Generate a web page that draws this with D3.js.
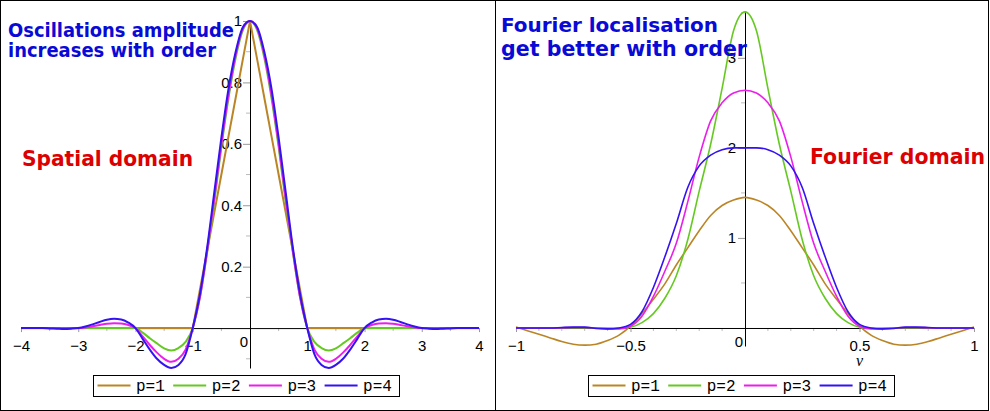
<!DOCTYPE html>
<html><head><meta charset="utf-8">
<script src="https://cdn.jsdelivr.net/npm/d3@7"></script>
<style>body{margin:0;background:#fff} svg{display:block}</style>
</head><body>
<svg id="c" width="990" height="411"></svg>
<script>
// ---------- data ----------
const seriesLabels = ["p=1", "p=2", "p=3", "p=4"];
const seriesColors = ["#bb8526", "#66c922", "#ea1fea", "#3412f2"];

// spatial domain samples
const xSpatial = [-4,-3.875,-3.75,-3.625,-3.5,-3.375,-3.25,-3.125,
  -3,-2.875,-2.75,-2.625,-2.5,-2.375,-2.25,-2.125,
  -2,-1.875,-1.75,-1.625,-1.5,-1.375,-1.25,-1.125,
  -1,-0.875,-0.75,-0.625,-0.5,-0.375,-0.25,-0.125,
  0,0.125,0.25,0.375,0.5,0.625,0.75,0.875,
  1,1.125,1.25,1.375,1.5,1.625,1.75,1.875,
  2,2.125,2.25,2.375,2.5,2.625,2.75,2.875,
  3,3.125,3.25,3.375,3.5,3.625,3.75,3.875,
  4];
const spatialP1 = [0,0,0,0,0,0,0,0,
  0,0,0,0,0,0,0,0,
  0,0,0,0,0,0,0,0,
  0,0.125,0.25,0.375,0.5,0.625,0.75,0.875,
  1,0.875,0.75,0.625,0.5,0.375,0.25,0.125,
  0,0,0,0,0,0,0,0,
  0,0,0,0,0,0,0,0,
  0,0,0,0,0,0,0,0,
  0];
const spatialP2 = [0,0,0,0,0,0,0,0,
  0,0,0,0,0,0,0,0,
  0,-0.015,-0.033,-0.05,-0.066,-0.073,-0.065,-0.045,
  0,0.10,0.245,0.41,0.59,0.75,0.88,0.97,
  1,0.97,0.88,0.75,0.59,0.41,0.245,0.10,
  0,-0.045,-0.065,-0.073,-0.066,-0.05,-0.033,-0.015,
  0,0,0,0,0,0,0,0,
  0,0,0,0,0,0,0,0,
  0];
const spatialP3 = [0,0,0,0,0,0,0,0,
  0,0.002,0.006,0.010,0.014,0.016,0.015,0.010,
  0,-0.027,-0.055,-0.08,-0.10,-0.11,-0.10,-0.07,
  0,0.10,0.25,0.42,0.60,0.76,0.89,0.975,
  1,0.975,0.89,0.76,0.60,0.42,0.25,0.10,
  0,-0.07,-0.10,-0.11,-0.10,-0.08,-0.055,-0.027,
  0,0.010,0.015,0.016,0.014,0.010,0.006,0.002,
  0,0,0,0,0,0,0,0,
  0];
const spatialP4 = [0,0,0,0,-0.001,-0.002,-0.003,-0.002,
  0,0.005,0.012,0.020,0.027,0.030,0.028,0.018,
  0,-0.035,-0.07,-0.10,-0.12,-0.13,-0.12,-0.085,
  0,0.11,0.26,0.44,0.62,0.78,0.90,0.98,
  1,0.98,0.90,0.78,0.62,0.44,0.26,0.11,
  0,-0.085,-0.12,-0.13,-0.12,-0.10,-0.07,-0.035,
  0,0.018,0.028,0.030,0.027,0.020,0.012,0.005,
  0,-0.002,-0.003,-0.002,-0.001,0,0,0,
  0];

// Fourier domain samples
const nuFourier = [-1,-0.95,-0.9,-0.85,-0.8,-0.75,-0.7,-0.65,-0.6,-0.55,
  -0.5,-0.45,-0.4,-0.35,-0.3,-0.25,-0.2,-0.15,-0.1,-0.05,
  0,0.05,0.1,0.15,0.2,0.25,0.3,0.35,0.4,0.45,
  0.5,0.55,0.6,0.65,0.7,0.75,0.8,0.85,0.9,0.95,1];
const fourierP1 = [0.01,-0.03,-0.07,-0.11,-0.15,-0.18,-0.19,-0.18,-0.14,-0.08,
  0.02,0.16,0.32,0.49,0.70,0.89,1.08,1.25,1.36,1.42,
  1.45,1.42,1.36,1.25,1.08,0.89,0.70,0.49,0.32,0.16,
  0.02,-0.08,-0.14,-0.18,-0.19,-0.18,-0.15,-0.11,-0.07,-0.03,0.01];
const fourierP2 = [0,0,0,0,0,0,0,0,0,0,
  0.01,0.06,0.16,0.33,0.58,0.98,1.52,2.04,2.66,3.30,
  3.51,3.30,2.66,2.04,1.52,0.98,0.58,0.33,0.16,0.06,
  0.01,0,0,0,0,0,0,0,0,0,0];
const fourierP3 = [0,0,0,0,0.003,0.005,0.005,0,-0.01,-0.01,
  0.02,0.13,0.35,0.63,0.94,1.40,1.90,2.30,2.50,2.61,
  2.64,2.61,2.50,2.30,1.90,1.40,0.94,0.63,0.35,0.13,
  0.02,-0.01,-0.01,0,0.005,0.005,0.003,0,0,0,0];
const fourierP4 = [0,0,0,0,0.005,0.01,0.01,-0.005,-0.01,0,
  0.04,0.18,0.45,0.79,1.16,1.56,1.80,1.92,1.98,2.0,
  2.0,2.0,1.98,1.92,1.80,1.56,1.16,0.79,0.45,0.18,
  0.04,0,-0.01,-0.005,0.01,0.01,0.005,0,0,0,0];

// ticks
const spatialXTicks = [-4,-3,-2,-1,1,2,3,4];
const spatialXMinor = [-3.5,-2.5,-1.5,-0.5,0.5,1.5,2.5,3.5];
const spatialYTicks = [0.2,0.4,0.6,0.8,1];
const spatialYMinor = [-0.1,0.1,0.3,0.5,0.7,0.9];
const fourierXTicks = [-1,-0.5,0.5,1];
const fourierXMinor = [-0.9,-0.8,-0.7,-0.6,-0.4,-0.3,-0.2,-0.1,0.1,0.2,0.3,0.4,0.6,0.7,0.8,0.9];
const fourierYTicks = [1,2,3];
const fourierYMinor = [0.5,1.5,2.5,3.5];

// ---------- drawing ----------
const svg = d3.select("#c");
const fmt = d => String(d).replace("-", "\u2212");
const tickFont = "'Liberation Sans', Arial, sans-serif";

function panel(o) {
  const g = svg.append("g");
  const x = d3.scaleLinear().domain(o.xDom).range(o.xRange);
  const y = d3.scaleLinear().domain(o.yDom).range(o.yRange);
  const x0 = x(0), y0 = y(0);

  // minor ticks
  g.selectAll(".mx").data(o.xMinor).join("line")
    .attr("x1", d => x(d)).attr("x2", d => x(d))
    .attr("y1", y0).attr("y2", y0 + 3)
    .attr("stroke", "#bbb").attr("stroke-width", 1);
  g.selectAll(".my").data(o.yMinor).join("line")
    .attr("x1", x0 - 4).attr("x2", x0)
    .attr("y1", d => y(d)).attr("y2", d => y(d))
    .attr("stroke", "#bbb").attr("stroke-width", 1);

  // x axis
  const gx = g.append("g").attr("transform", `translate(0,${y0})`)
    .call(d3.axisBottom(x).tickValues(o.xTicks).tickSize(4).tickSizeOuter(0)
      .tickPadding(8).tickFormat(fmt));
  gx.select(".domain").attr("stroke", "#000");
  gx.selectAll(".tick line").attr("stroke", "#999");
  gx.selectAll("text").attr("font-family", tickFont).attr("font-size", 15).attr("fill", "#000");

  // y axis
  const gy = g.append("g").attr("transform", `translate(${x0},0)`)
    .call(d3.axisLeft(y).tickValues(o.yTicks).tickSize(7).tickSizeOuter(0)
      .tickPadding(o.yPad).tickFormat(fmt));
  gy.select(".domain").attr("stroke", "#000");
  gy.selectAll(".tick line").attr("stroke", "#999");
  gy.selectAll("text").attr("font-family", tickFont).attr("font-size", 15).attr("fill", "#000");

  // origin label
  g.append("text").attr("x", x0 - 6).attr("y", 347).attr("text-anchor", "middle")
    .attr("font-family", tickFont).attr("font-size", 15).text("0");

  // curves
  o.series.forEach((vals, i) => {
    const line = d3.line()
      .x((d, j) => x(o.xs[j])).y(d => y(d))
      .curve(o.curves[i]);
    g.append("path").datum(vals).attr("d", line)
      .attr("fill", "none").attr("stroke", seriesColors[i])
      .attr("stroke-width", o.lw).attr("stroke-linejoin", "round");
  });

  // legend
  const lg = g.append("g").attr("transform", `translate(${o.legendX},0)`);
  lg.append("rect").attr("x", 0.5).attr("y", 375.5).attr("width", 306).attr("height", 21)
    .attr("fill", "#fff").attr("stroke", "#000").attr("stroke-width", 1);
  seriesLabels.forEach((lab, i) => {
    const bx = 4.5 + i * 75.7;
    lg.append("line").attr("x1", bx).attr("x2", bx + 33).attr("y1", 385.5).attr("y2", 385.5)
      .attr("stroke", seriesColors[i]).attr("stroke-width", 2);
    lg.append("text").attr("x", bx + 38.5).attr("y", 391)
      .attr("font-family", "'Liberation Mono', 'DejaVu Sans Mono', monospace")
      .attr("font-size", 16).text(lab);
  });
  return {x, y};
}

panel({
  xDom: [-4, 4], xRange: [21, 479], yDom: [-0.13, 1], yRange: [368, 21],
  xTicks: spatialXTicks, xMinor: spatialXMinor, yTicks: spatialYTicks, yMinor: spatialYMinor,
  yPad: 1, xs: xSpatial, series: [spatialP1, spatialP2, spatialP3, spatialP4],
  curves: [d3.curveLinear, d3.curveMonotoneX, d3.curveMonotoneX, d3.curveMonotoneX],
  lw: 2, legendX: 93
});
const R = panel({
  xDom: [-1, 1], xRange: [516, 974], yDom: [-0.2, 3.52], yRange: [346, 11],
  xTicks: fourierXTicks, xMinor: fourierXMinor, yTicks: fourierYTicks, yMinor: fourierYMinor,
  yPad: 2, xs: nuFourier, series: [fourierP1, fourierP2, fourierP3, fourierP4],
  curves: [d3.curveMonotoneX, d3.curveMonotoneX, d3.curveMonotoneX, d3.curveMonotoneX],
  lw: 1.6, legendX: 588
});

// nu axis label
svg.append("text").attr("x", R.x(0.5)).attr("y", 366).attr("text-anchor", "middle")
  .attr("font-family", "'Liberation Serif', 'DejaVu Serif', serif").attr("font-style", "italic")
  .attr("font-size", 16).text("\u03bd");

// annotations
const ann = [
  {t: "Oscillations amplitude", x: 8, y: 37, w: 226, s: 19.5, c: "#0a0ad6"},
  {t: "increases with order", x: 8, y: 57, w: 208, s: 19.5, c: "#0a0ad6"},
  {t: "Spatial domain", x: 22, y: 166, w: 171, s: 20.5, c: "#dc0000"},
  {t: "Fourier localisation", x: 501, y: 32, w: 217, s: 20, c: "#0a0ad6"},
  {t: "get better with order", x: 501, y: 56, w: 246, s: 20.5, c: "#0a0ad6"},
  {t: "Fourier domain", x: 810, y: 164, w: 175, s: 20.5, c: "#dc0000"}
];
ann.forEach(a => {
  svg.append("text").attr("x", a.x).attr("y", a.y)
    .attr("font-family", "'DejaVu Sans', sans-serif").attr("font-weight", "bold")
    .attr("font-size", a.s).attr("fill", a.c)
    .attr("textLength", a.w).attr("lengthAdjust", "spacingAndGlyphs").text(a.t);
});

// frames
svg.append("rect").attr("x", 0.5).attr("y", 0.5).attr("width", 988).attr("height", 410)
  .attr("fill", "none").attr("stroke", "#000").attr("stroke-width", 1);
svg.append("line").attr("x1", 495.5).attr("x2", 495.5).attr("y1", 0).attr("y2", 411)
  .attr("stroke", "#000").attr("stroke-width", 1);
</script>
</body></html>
